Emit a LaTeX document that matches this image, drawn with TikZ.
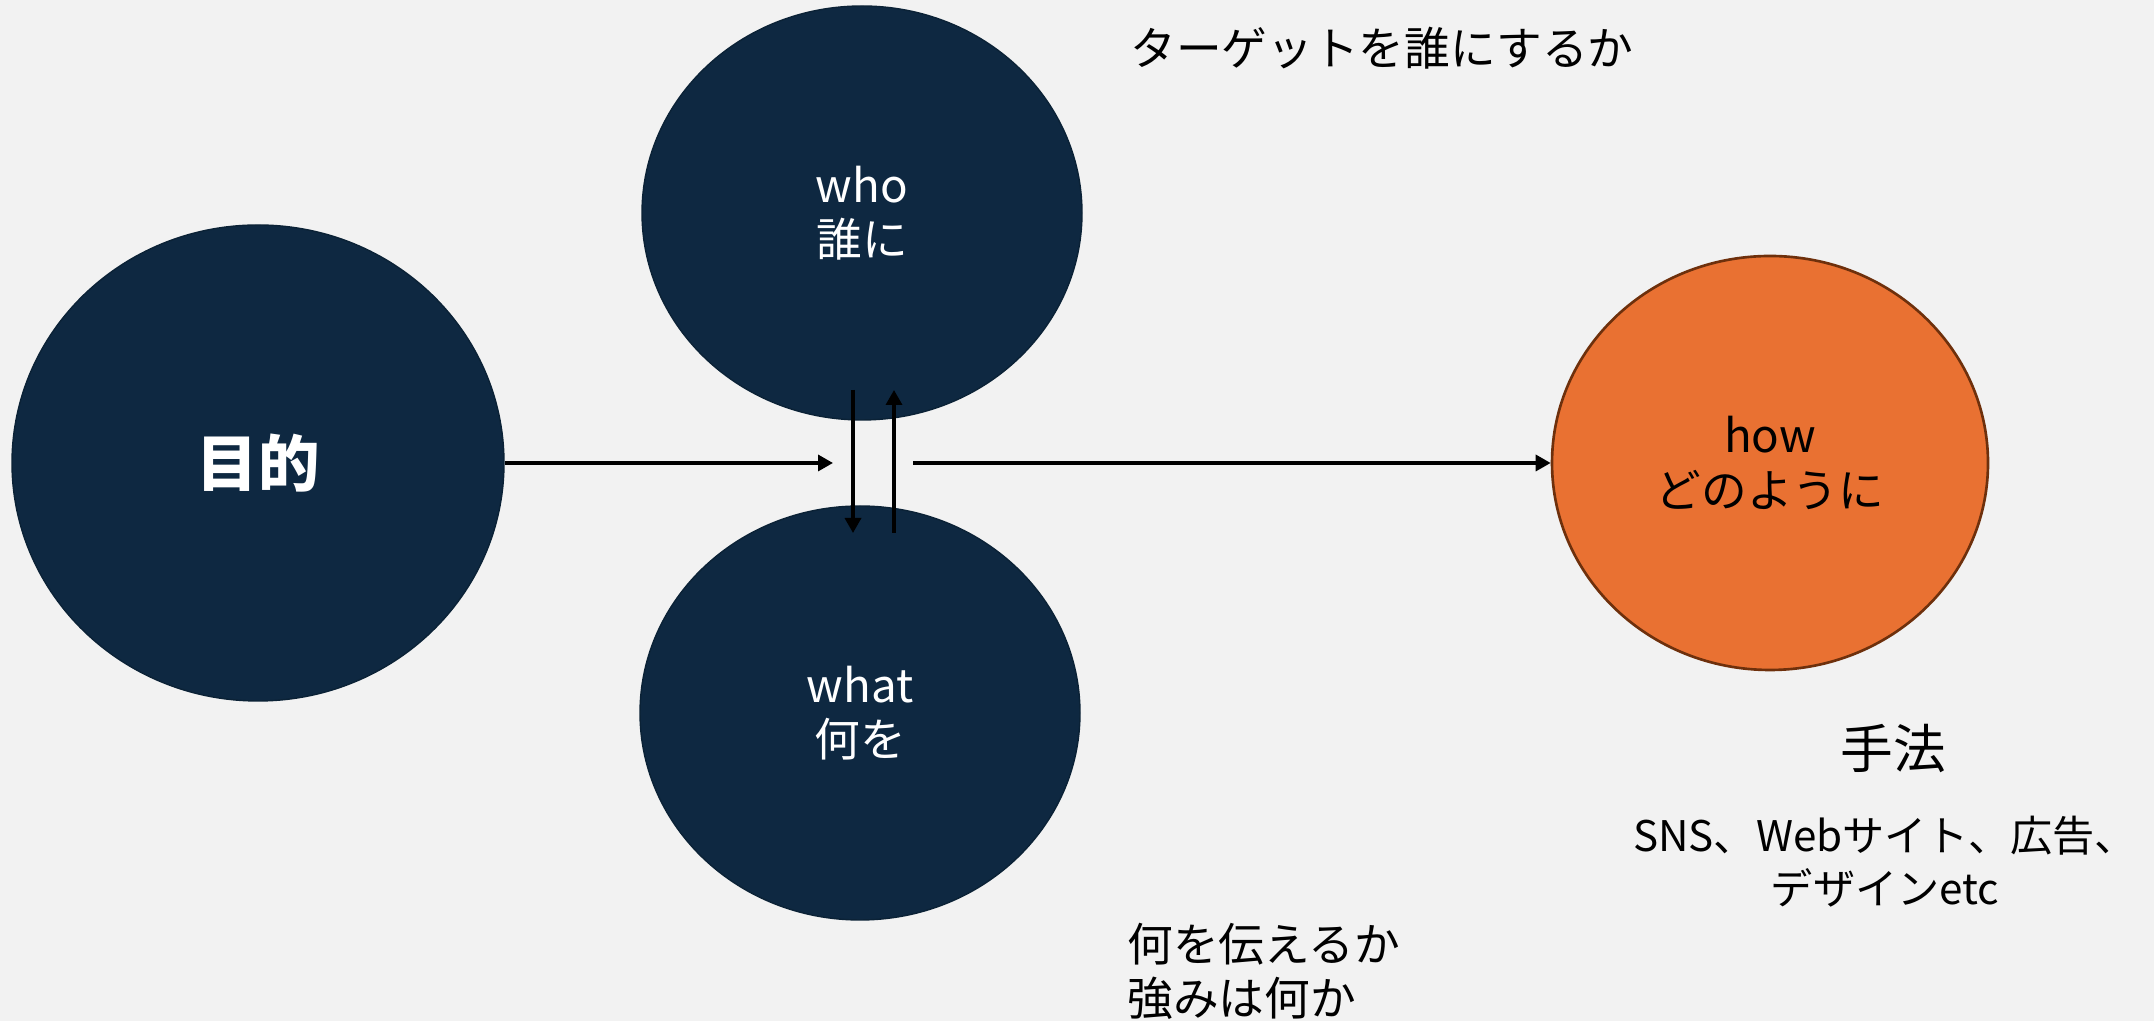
\documentclass[tikz,border=0pt]{standalone}
\usepackage{fontspec}
\setmainfont{Noto Sans CJK JP}
\usepackage{xcolor}
\definecolor{navy}{HTML}{0E2841}
\definecolor{navy-edge}{HTML}{0B2236}
\definecolor{carrot}{HTML}{E97132}
\definecolor{rust}{HTML}{6E300C}
\definecolor{paper}{HTML}{F2F2F2}
\newcommand\circFont{\fontsize{26}{31}\selectfont}
\newcommand\bigFont{\fontsize{35}{40}\selectfont\bfseries}
\usepackage{tikz}
\usetikzlibrary{shapes,arrows.meta,calc,positioning}
\tikzset{
    -{Triangle[length=0.3cm,width=0.32cm]},
    link/.style = {line width=1.9pt},
    state/.style ={ellipse, draw=navy-edge, fill=navy, line width=0.8pt, text=white, align=center, inner sep=0pt, font=\circFont},
    hot/.style ={ellipse, draw=rust, fill=carrot, line width=1.5pt, text=black, align=center, inner sep=0pt, font=\circFont},
    note/.style = {inner sep=0pt, align=left, font=\circFont}
}

\begin{document}
\begin{tikzpicture}
      \fill[paper] (0,0) rectangle (43.08,20.42);
      \useasboundingbox (0,0) rectangle (43.08,20.42);

      \node[state, minimum width=9.84cm, minimum height=9.52cm, font=\bigFont] (purpose) at (5.16,11.16) {目的};
      \node[state, minimum width=8.8cm, minimum height=8.28cm] (who) at (17.24,16.16) {who\\誰に};
      \node[state, minimum width=8.8cm, minimum height=8.28cm] (what) at (17.2,6.16) {what\\何を};
      \node[hot, minimum width=8.72cm, minimum height=8.28cm] (how) at (35.4,11.16) {how\\どのように};

      \node[note, anchor=west] (target) at (22.6,19.46) {ターゲットを誰にするか};
      \node[note, anchor=west] (message) at (22.54,0.99) {何を伝えるか\\強みは何か};
      \node[note, font=\fontsize{30}{36}\selectfont] (method) at (37.86,5.44) {手法};
      \node[note, align=center, font=\fontsize{24}{30}\selectfont] (channels) at (37.7,3.18) {SNS、Webサイト、広告、\\デザインetc};

      \coordinate (hub in) at (16.66,11.16);
      \coordinate (hub out) at (18.26,11.16);
      \coordinate (down top) at (17.06,12.62);
      \coordinate (down bot) at (17.06,9.76);
      \coordinate (up bot) at (17.88,9.76);
      \coordinate (up top) at (17.88,12.62);

      \draw[link] (purpose.east) -- (hub in);
      \draw[link] (hub out) -- (how.west);
      \draw[link] (down top) -- (down bot);
      \draw[link] (up bot) -- (up top);
    \end{tikzpicture}
\end{document}
